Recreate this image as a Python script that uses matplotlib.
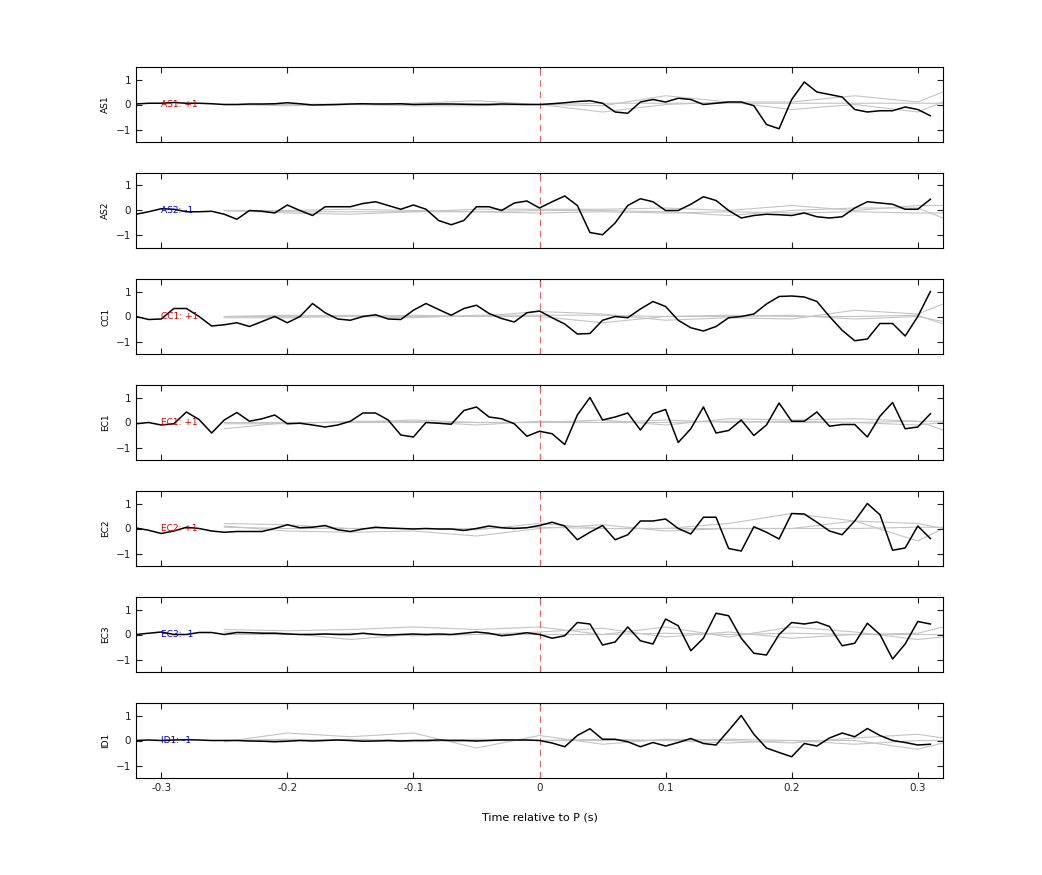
import numpy as np
import matplotlib
matplotlib.use("Agg")
import matplotlib.pyplot as plt

t_start, t_step, n_pts = -0.32, 0.01, 64
grey_t = [-0.25, -0.2, -0.15, -0.1, -0.05, 0.0, 0.05, 0.1, 0.15, 0.2, 0.25, 0.3, 0.32]

stations = ["AS1", "AS2", "CC1", "EC1", "EC2", "EC3", "ID1"]
polarity = ["+1", "-1", "+1", "+1", "+1", "-1", "-1"]

AS1 = [0.02,0.05,0.05,0.08,0.05,0.05,0.03,0.0,0.0,0.02,0.02,0.03,0.07,0.03,-0.02,-0.01,0.0,0.02,0.03,0.02,0.02,0.03,0.0,0.01,0.02,0.02,0.01,0.0,0.0,0.02,0.01,0.0,
       0.0,0.03,0.07,0.12,0.15,0.05,-0.3,-0.35,0.1,0.2,0.1,0.25,0.2,0.0,0.05,0.1,0.1,-0.05,-0.8,-0.97,0.2,0.9,0.5,0.4,0.3,-0.2,-0.3,-0.25,-0.25,-0.1,-0.2,-0.45]
AS2 = [-0.15,-0.05,0.07,0.05,-0.05,-0.05,-0.03,-0.15,-0.35,0.0,-0.03,-0.1,0.22,0.0,-0.2,0.15,0.15,0.15,0.28,0.35,0.2,0.05,0.22,0.05,-0.4,-0.57,-0.4,0.15,0.15,0.0,0.3,0.38,
       0.1,0.35,0.58,0.2,-0.88,-0.97,-0.5,0.2,0.47,0.35,0.0,0.0,0.25,0.55,0.4,0.0,-0.3,-0.2,-0.15,-0.17,-0.2,-0.1,-0.25,-0.3,-0.25,0.1,0.35,0.3,0.25,0.05,0.05,0.45]
CC1 = [0.0,-0.12,-0.1,0.32,0.32,0.0,-0.38,-0.33,-0.25,-0.4,-0.2,0.0,-0.25,0.0,0.52,0.15,-0.1,-0.15,0.0,0.07,-0.1,-0.12,0.25,0.52,0.28,0.05,0.32,0.45,0.12,-0.08,-0.22,0.15,
       0.22,-0.05,-0.3,-0.7,-0.68,-0.15,0.0,-0.05,0.3,0.6,0.4,-0.15,-0.45,-0.58,-0.4,-0.05,0.0,0.1,0.5,0.8,0.82,0.78,0.6,0.0,-0.55,-0.97,-0.9,-0.28,-0.28,-0.78,0.0,1.0]
EC1 = [-0.05,0.0,-0.1,-0.05,0.42,0.12,-0.42,0.1,0.4,0.05,0.15,0.3,-0.05,-0.03,-0.1,-0.18,-0.1,0.05,0.38,0.38,0.1,-0.5,-0.58,0.0,-0.03,-0.07,0.48,0.62,0.22,0.15,-0.05,-0.55,
       -0.35,-0.45,-0.88,0.3,1.0,0.1,0.22,0.38,-0.3,0.35,0.52,-0.8,-0.25,0.62,-0.42,-0.32,0.1,-0.52,-0.1,0.78,0.05,0.05,0.42,-0.15,-0.08,-0.08,-0.58,0.25,0.8,-0.25,-0.18,0.35]
EC2 = [0.02,-0.07,-0.2,-0.1,0.05,0.0,-0.1,-0.15,-0.12,-0.12,-0.12,0.0,0.15,0.03,0.05,0.12,-0.05,-0.12,-0.02,0.05,0.02,0.0,-0.02,0.0,-0.02,-0.02,-0.08,0.0,0.1,0.03,0.0,0.03,
       0.12,0.25,0.1,-0.45,-0.15,0.12,-0.45,-0.25,0.3,0.3,0.38,0.0,-0.22,0.45,0.45,-0.8,-0.9,0.07,-0.15,-0.42,0.6,0.58,0.25,-0.1,-0.25,0.3,1.0,0.55,-0.87,-0.78,0.1,-0.4]
EC3 = [0.0,0.05,0.1,0.0,0.0,0.08,0.08,0.0,0.08,0.07,0.05,0.05,0.02,0.0,0.0,0.02,0.0,0.0,0.05,0.0,-0.02,0.0,0.02,0.0,0.02,0.0,0.05,0.1,0.05,-0.05,0.0,0.07,
       0.0,-0.15,-0.05,0.48,0.42,-0.42,-0.3,0.3,-0.25,-0.38,0.62,0.35,-0.65,-0.15,0.85,0.75,-0.15,-0.75,-0.82,0.0,0.48,0.42,0.5,0.32,-0.45,-0.35,0.45,0.0,-0.98,-0.38,0.52,0.42]
ID1 = [0.0,0.02,0.0,0.02,0.03,0.02,0.0,0.0,0.0,-0.02,-0.03,-0.05,-0.03,0.0,-0.02,0.0,0.02,0.0,-0.03,-0.02,0.0,-0.02,0.0,0.0,0.02,0.0,0.0,-0.02,0.0,0.02,0.02,0.02,
       0.0,-0.1,-0.25,0.2,0.47,0.05,0.05,-0.05,-0.25,-0.08,-0.22,-0.08,0.08,-0.12,-0.18,0.4,1.0,0.25,-0.3,-0.48,-0.65,-0.12,-0.22,0.1,0.3,0.15,0.48,0.2,0.0,-0.08,-0.18,-0.15]
black = [AS1, AS2, CC1, EC1, EC2, EC3, ID1]

# grey comparison traces sampled at grey_t
grey_AS1 = [[0,0,0,0.05,0.15,0.0,-0.05,0.35,0.1,0.1,0.35,0.1,0.5],
            [0,-0.05,0,-0.05,-0.05,0,-0.3,0.0,0.1,-0.2,0.0,-0.3,0.1],
            [0,0,0.02,0,0.02,0,0.05,0.05,0.05,0.05,0.05,0.05,0.05]]
grey_AS2 = [[0,-0.1,-0.15,-0.05,0.05,0.05,0.05,0.1,0.0,0.2,0.0,0.2,0.2],
            [0,0.0,0.05,0.0,-0.05,0.0,0.0,-0.05,-0.2,0.0,0.1,0.1,-0.3],
            [0,-0.05,-0.05,-0.05,-0.05,-0.1,-0.05,-0.1,-0.05,-0.1,-0.05,-0.1,-0.1]]
grey_CC1 = [[0,0.05,0.0,0.05,0.0,0.2,0.1,-0.15,-0.05,-0.1,0.25,0.1,0.5],
            [0,0.0,0.05,0.0,0.0,0.0,-0.25,0.0,0.05,0.0,0.0,0.05,-0.3],
            [-0.05,-0.05,0.0,-0.05,0.05,0.05,0.05,0.0,0.0,0.05,-0.1,0.0,-0.2]]
grey_EC1 = [[-0.25,0.0,0.0,0.1,0.0,0.0,0.1,-0.1,0.15,0.1,0.15,0.05,-0.3],
            [-0.05,-0.05,0.05,0.05,-0.1,0.05,0.0,0.1,0.0,0.05,0.0,-0.1,0.0],
            [0.0,0.0,0.0,0.0,0.0,0.0,0.0,0.0,0.05,0.0,0.0,0.05,0.05]]
grey_EC2 = [[0.2,0.15,0.0,0.0,-0.05,0.2,0.0,0.0,0.2,0.6,0.3,-0.5,0.0],
            [0.1,-0.1,-0.15,-0.1,-0.3,0.0,0.15,-0.1,0.0,0.0,0.3,0.2,0.0],
            [0.05,0.0,0.0,0.0,0.0,0.05,0.0,0.0,0.0,0.0,0.0,0.05,0.05]]
grey_EC3 = [[0.2,0.15,0.2,0.3,0.2,0.3,0.0,0.3,-0.1,0.3,0.1,-0.2,-0.1],
            [0.1,0.05,-0.2,0.0,0.0,0.1,0.25,-0.1,0.1,-0.15,0.0,0.05,0.3],
            [0.0,0.0,0.05,-0.05,0.0,0.0,0.0,0.05,0.0,0.05,0.0,0.0,0.0]]
grey_ID1 = [[-0.05,0.3,0.15,0.3,-0.3,0.2,-0.15,0.05,0.0,-0.1,0.1,0.25,0.1],
            [0.0,0.05,0.0,-0.05,0.0,0.0,0.05,0.0,-0.1,0.0,0.0,-0.35,-0.1],
            [0.0,0.0,0.05,0.0,0.05,0.0,0.0,0.0,0.05,0.0,-0.15,0.0,0.0]]
greys = [grey_AS1, grey_AS2, grey_CC1, grey_EC1, grey_EC2, grey_EC3, grey_ID1]

t = t_start + t_step * np.arange(n_pts)

fig = plt.figure(figsize=(10.42, 8.75), dpi=100)
left, width = 136/1042, (943-136)/1042
tops = [67, 173, 279, 385, 491, 597, 703]
h = 75
for i, st in enumerate(stations):
    ax = fig.add_axes([left, 1 - (tops[i] + h)/875, width, h/875])
    for g in greys[i]:
        ax.plot(grey_t, g, color="#c4c4c4", lw=0.8, zorder=1)
    ax.plot(t, black[i], color="black", lw=1.1, zorder=3)
    ax.axvline(0, color="#e06666", ls=(0, (6, 4)), lw=0.8, zorder=2)
    col = "#d00000" if polarity[i] == "+1" else "#0000cc"
    ax.text(-0.30, 0, f"{st}: {polarity[i]}", color=col, fontsize=6.5, va="center", ha="left", zorder=4)
    ax.set_xlim(-0.32, 0.32)
    ax.set_ylim(-1.5, 1.5)
    ax.set_yticks([-1, 0, 1])
    ax.set_xticks([-0.3, -0.2, -0.1, 0, 0.1, 0.2, 0.3])
    ax.tick_params(direction="in", top=True, right=True, labelsize=7.5, length=4, colors="#222222")
    ax.set_ylabel(st, fontsize=6.5)
    for s in ax.spines.values():
        s.set_linewidth(0.8)
    if i < len(stations) - 1:
        ax.set_xticklabels([])
    else:
        ax.set_xticklabels(["-0.3", "-0.2", "-0.1", "0", "0.1", "0.2", "0.3"])
        ax.set_xlabel("Time relative to P (s)", fontsize=8, labelpad=14)

fig.savefig("out.png", dpi=100)
